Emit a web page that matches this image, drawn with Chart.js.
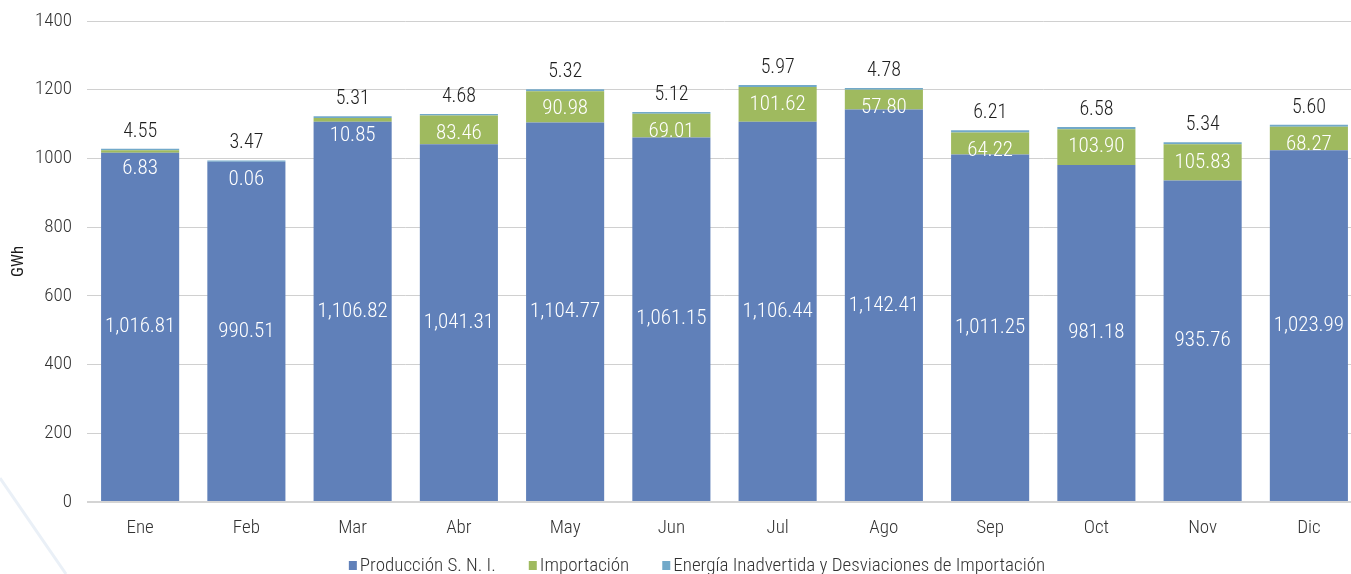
<!DOCTYPE html>
<html>
<head>
<meta charset="utf-8">
<script src="https://cdn.jsdelivr.net/npm/chart.js@4.4.1/dist/chart.umd.min.js"></script>
<style>
  html, body { margin: 0; padding: 0; background: #fff; overflow: hidden; }
  #wrap { width: 1378px; height: 574px; }
</style>
</head>
<body>
<div id="wrap"><canvas id="mainChart" width="1378" height="574"></canvas></div>
<script>
const months     = ['Ene', 'Feb', 'Mar', 'Abr', 'May', 'Jun', 'Jul', 'Ago', 'Sep', 'Oct', 'Nov', 'Dic'];
const produccion = [1016.81, 990.51, 1106.82, 1041.31, 1104.77, 1061.15, 1106.44, 1142.41, 1011.25, 981.18, 935.76, 1023.99];
const importacion = [6.83, 0.06, 10.85, 83.46, 90.98, 69.01, 101.62, 57.80, 64.22, 103.90, 105.83, 68.27];
const inadvertida = [4.55, 3.47, 5.31, 4.68, 5.32, 5.12, 5.97, 4.78, 6.21, 6.58, 5.34, 5.60];
const yTicks     = [0, 200, 400, 600, 800, 1000, 1200, 1400];

const FONT = "'Roboto Condensed', 'Liberation Sans Narrow', 'Arial Narrow', Roboto, sans-serif";
const BLUE  = '#6080b9';
const GREEN = '#9fba5f';
const LBLUE = '#72a9c9';

const fmt = v => v.toLocaleString('en-US', { minimumFractionDigits: 2, maximumFractionDigits: 2 });

// value labels drawn on / above the bars
const barLabels = {
  id: 'barLabels',
  afterDatasetsDraw(chart) {
    const ctx = chart.ctx;
    ctx.save();
    ctx.textAlign = 'center';
    ctx.textBaseline = 'middle';
    chart.data.datasets.forEach((ds, di) => {
      const meta = chart.getDatasetMeta(di);
      meta.data.forEach((bar, i) => {
        const v = ds.data[i];
        const mid = (bar.y + bar.base) / 2;
        if (di === 0) {
          ctx.font = `300 21px ${FONT}`;
          ctx.fillStyle = '#ffffff';
          ctx.fillText(fmt(v), bar.x, mid);
        } else if (di === 1) {
          ctx.font = `300 21px ${FONT}`;
          ctx.fillStyle = '#ffffff';
          ctx.fillText(fmt(v), bar.x, Math.max(mid, bar.y + 18));
        } else {
          ctx.font = `300 20px ${FONT}`;
          ctx.fillStyle = '#1e1e1e';
          ctx.fillText(fmt(v), bar.x, bar.y - 17);
        }
      });
    });
    ctx.restore();
  }
};

// legend at the bottom
const bottomLegend = {
  id: 'bottomLegend',
  afterDraw(chart) {
    const ctx = chart.ctx;
    ctx.save();
    ctx.font = `300 19px ${FONT}`;
    ctx.textBaseline = 'middle';
    const items = chart.data.datasets.map(ds => ({ text: ds.label, color: ds.backgroundColor }));
    const box = 8, gap = 3, sep = 33;
    const widths = items.map(it => box + gap + ctx.measureText(it.text).width);
    const total = widths.reduce((a, b) => a + b, 0) + sep * (items.length - 1);
    let x = 697 - total / 2;
    const y = 566;
    items.forEach((it, i) => {
      ctx.fillStyle = it.color;
      ctx.fillRect(x, y - 5, box, 9);
      ctx.fillStyle = '#333333';
      ctx.fillText(it.text, x + box + gap, y);
      x += widths[i] + sep;
    });
    ctx.restore();
  }
};

// faint decorative stroke in the lower-left corner
const cornerMark = {
  id: 'cornerMark',
  beforeDraw(chart) {
    const ctx = chart.ctx;
    ctx.save();
    ctx.strokeStyle = '#eaf0f7';
    ctx.lineWidth = 3;
    ctx.beginPath();
    ctx.moveTo(0, 478);
    ctx.lineTo(66, 574);
    ctx.stroke();
    ctx.restore();
  }
};

new Chart(document.getElementById('mainChart').getContext('2d'), {
  type: 'bar',
  data: {
    labels: months,
    datasets: [
      { label: 'Producción S. N. I.', data: produccion, backgroundColor: BLUE },
      { label: 'Importación', data: importacion, backgroundColor: GREEN },
      { label: 'Energía Inadvertida y Desviaciones de Importación', data: inadvertida, backgroundColor: LBLUE }
    ]
  },
  options: {
    responsive: false,
    animation: false,
    layout: { padding: { top: 21, right: 16, bottom: 32, left: 0 } },
    datasets: { bar: { categoryPercentage: 1, barPercentage: 0.735, borderWidth: 0 } },
    plugins: {
      legend: { display: false },
      tooltip: { enabled: false }
    },
    scales: {
      x: {
        stacked: true,
        grid: { display: false, drawTicks: false },
        border: { display: false },
        ticks: { padding: 15, color: '#333333', font: { family: FONT, size: 19, weight: '300' } },
        afterFit: s => { s.height = 40; s.paddingLeft = 0; s.paddingRight = 0; }
      },
      y: {
        stacked: true,
        min: 0,
        max: 1400,
        afterBuildTicks: s => { s.ticks = yTicks.map(v => ({ value: v })); },
        grid: {
          drawTicks: false,
          color: ctx => ctx.tick && ctx.tick.value === 0 ? '#d4d4d4' : '#d0d0d0',
          lineWidth: ctx => ctx.tick && ctx.tick.value === 0 ? 2 : 1
        },
        border: { display: false },
        ticks: {
          padding: 15,
          color: '#333333',
          font: { family: FONT, size: 19, weight: '300' },
          callback: v => String(v)
        },
        title: {
          display: true,
          text: 'GWh',
          color: '#1a1a1a',
          padding: { top: 9, bottom: 0 },
          font: { family: FONT, size: 17 }
        },
        afterFit: s => { s.width = 87; s.paddingTop = 0; s.paddingBottom = 0; }
      }
    }
  },
  plugins: [cornerMark, barLabels, bottomLegend]
});
</script>
</body>
</html>
